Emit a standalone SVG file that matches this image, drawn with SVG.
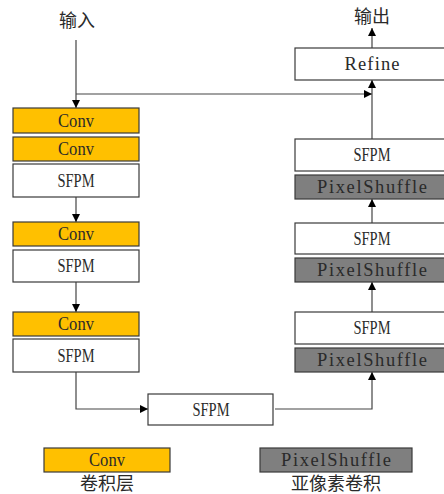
<svg xmlns="http://www.w3.org/2000/svg" width="444" height="494" viewBox="0 0 444 494">
  <defs>
    <marker id="arr" viewBox="0 0 10 10" refX="10" refY="5" markerWidth="8" markerHeight="8" markerUnits="userSpaceOnUse" orient="auto">
      <path d="M0,0 L10,5 L0,10 Z" fill="#000"/>
    </marker>
    <style>
      .box { stroke: #3a3a3a; stroke-width: 1.2; }
      .conv { fill: #ffc000; }
      .ps { fill: #7f7f7f; }
      .plain { fill: #ffffff; }
      .lbl { font-family: "Liberation Serif", "Noto Sans CJK SC", serif; font-size: 18.5px; fill: #2a2a2a; text-anchor: middle; dominant-baseline: central; }
      .cjk { font-family: "Noto Sans CJK SC", sans-serif; font-size: 18px; fill: #2a2a2a; text-anchor: middle; }
      .wire { fill: none; stroke: #444; stroke-width: 1.2; }
    </style>
  </defs>
  <rect width="444" height="494" fill="#fff"/>

  <!-- input / output captions -->
  <text class="cjk" x="77" y="27">输入</text>
  <text class="cjk" x="372" y="23">输出</text>

  <!-- connectors -->
  <g id="connectors">
    <path class="wire" d="M76,40 V108" marker-end="url(#arr)"/>
    <path class="wire" d="M76,94 H372" marker-end="url(#arr)"/>
    <path class="wire" d="M76,197 V222" marker-end="url(#arr)"/>
    <path class="wire" d="M76,282 V312" marker-end="url(#arr)"/>
    <path class="wire" d="M76,372 V409 H148" marker-end="url(#arr)"/>
    <path class="wire" d="M275,409 H372 V372" marker-end="url(#arr)"/>
    <path class="wire" d="M372,312 V282" marker-end="url(#arr)"/>
    <path class="wire" d="M372,223 V199" marker-end="url(#arr)"/>
    <path class="wire" d="M372,139 V80" marker-end="url(#arr)"/>
    <path class="wire" d="M372,48 V28" marker-end="url(#arr)"/>
  </g>

  <!-- encoder column -->
  <g id="conv1"><rect class="box conv" x="13" y="108" width="126" height="25"/><text class="lbl" x="76" y="121" textLength="36" lengthAdjust="spacingAndGlyphs">Conv</text></g>
  <g id="conv2"><rect class="box conv" x="13" y="137" width="126" height="24"/><text class="lbl" x="76" y="149" textLength="36" lengthAdjust="spacingAndGlyphs">Conv</text></g>
  <g id="sfpm1"><rect class="box plain" x="13" y="164" width="126" height="33"/><text class="lbl" x="76" y="181" textLength="37" lengthAdjust="spacingAndGlyphs">SFPM</text></g>
  <g id="conv3"><rect class="box conv" x="13" y="222" width="126" height="24"/><text class="lbl" x="76" y="234" textLength="36" lengthAdjust="spacingAndGlyphs">Conv</text></g>
  <g id="sfpm2"><rect class="box plain" x="13" y="250" width="126" height="32"/><text class="lbl" x="76" y="266" textLength="37" lengthAdjust="spacingAndGlyphs">SFPM</text></g>
  <g id="conv4"><rect class="box conv" x="13" y="312" width="126" height="24"/><text class="lbl" x="76" y="324" textLength="36" lengthAdjust="spacingAndGlyphs">Conv</text></g>
  <g id="sfpm3"><rect class="box plain" x="13" y="339" width="126" height="33"/><text class="lbl" x="76" y="356" textLength="37" lengthAdjust="spacingAndGlyphs">SFPM</text></g>

  <!-- bottleneck -->
  <g id="sfpm-mid"><rect class="box plain" x="148" y="394" width="125" height="31"/><text class="lbl" x="211" y="410" textLength="37" lengthAdjust="spacingAndGlyphs">SFPM</text></g>

  <!-- decoder column -->
  <g id="ps3"><rect class="box ps" x="295" y="348" width="154" height="24"/><text class="lbl" x="372" y="360" textLength="110" lengthAdjust="spacing">PixelShuffle</text></g>
  <g id="sfpm6"><rect class="box plain" x="295" y="312" width="154" height="32"/><text class="lbl" x="372" y="328" textLength="37" lengthAdjust="spacingAndGlyphs">SFPM</text></g>
  <g id="ps2"><rect class="box ps" x="295" y="258" width="154" height="24"/><text class="lbl" x="372" y="270" textLength="110" lengthAdjust="spacing">PixelShuffle</text></g>
  <g id="sfpm5"><rect class="box plain" x="295" y="223" width="154" height="31"/><text class="lbl" x="372" y="239" textLength="37" lengthAdjust="spacingAndGlyphs">SFPM</text></g>
  <g id="ps1"><rect class="box ps" x="295" y="175" width="154" height="24"/><text class="lbl" x="372" y="187" textLength="110" lengthAdjust="spacing">PixelShuffle</text></g>
  <g id="sfpm4"><rect class="box plain" x="295" y="139" width="154" height="32"/><text class="lbl" x="372" y="155" textLength="37" lengthAdjust="spacingAndGlyphs">SFPM</text></g>
  <g id="refine"><rect class="box plain" x="295" y="48" width="154" height="32"/><text class="lbl" x="372" y="64" textLength="55" lengthAdjust="spacing">Refine</text></g>

  <!-- legend -->
  <g id="legend-conv"><rect class="box conv" x="44" y="448" width="126" height="24"/><text class="lbl" x="107" y="460" textLength="36" lengthAdjust="spacingAndGlyphs">Conv</text><text class="cjk" x="107" y="490">卷积层</text></g>
  <g id="legend-ps"><rect class="box ps" x="260" y="448" width="152" height="24"/><text class="lbl" x="336" y="460" textLength="110" lengthAdjust="spacing">PixelShuffle</text><text class="cjk" x="336" y="490">亚像素卷积</text></g>
</svg>
